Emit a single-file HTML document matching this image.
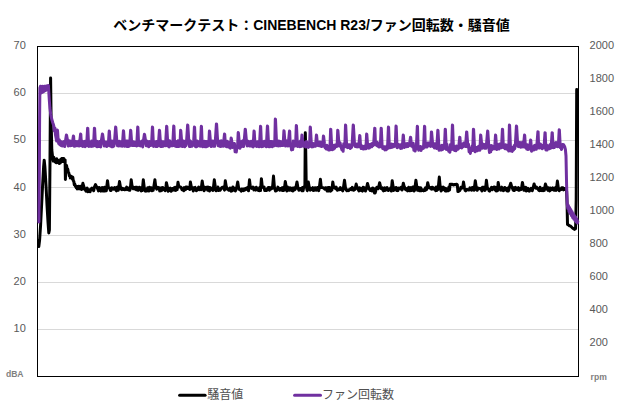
<!DOCTYPE html>
<html><head><meta charset="utf-8"><title>chart</title>
<style>
html,body{margin:0;padding:0;background:#fff;}
svg{display:block;font-family:"Liberation Sans","Noto Sans CJK JP",sans-serif;}
.ax text{font-size:11px;fill:#595959;}
.u text{font-size:8.6px;font-weight:bold;fill:#7f7f7f;}
</style></head><body>
<svg width="620" height="410" viewBox="0 0 620 410">
<rect width="620" height="410" fill="#fff"/>
<g stroke="#d9d9d9" stroke-width="1" shape-rendering="crispEdges"><line x1="38" x2="578" y1="329.36" y2="329.36"/><line x1="38" x2="578" y1="282.21" y2="282.21"/><line x1="38" x2="578" y1="235.07" y2="235.07"/><line x1="38" x2="578" y1="187.93" y2="187.93"/><line x1="38" x2="578" y1="140.79" y2="140.79"/><line x1="38" x2="578" y1="93.64" y2="93.64"/></g>
<rect x="37.5" y="46.5" width="541" height="330" fill="none" stroke="#000" stroke-width="1" shape-rendering="crispEdges"/>
<path d="M38.8,246.5 L39.6,240.0 L40.6,225.0 L41.6,205.0 L42.6,185.0 L43.6,167.0 L44.2,160.2 L44.9,167.0 L46.0,185.0 L47.0,205.0 L48.0,222.0 L48.8,233.0 L49.4,230.0 L50.0,160.0 L50.6,78.0 L51.1,120.0 L51.8,150.0 L52.8,158.9 L53.3,161.1 L53.8,157.3 L54.3,161.3 L54.8,159.1 L55.3,162.0 L55.8,159.6 L56.3,162.7 L56.8,158.8 L57.3,162.0 L57.8,160.7 L58.3,162.6 L58.8,160.6 L59.3,163.6 L59.8,160.4 L60.3,163.0 L60.8,159.3 L61.3,161.9 L61.8,158.5 L62.3,161.1 L62.8,158.5 L63.3,161.6 L63.8,158.4 L64.2,160.5 L65.1,160.0 L65.4,179.5 L65.8,166.0 L66.5,165.4 L67.2,169.0 L67.8,169.1 L68.3,172.4 L68.8,172.8 L69.3,175.8 L69.8,175.4 L70.3,177.9 L70.8,176.3 L71.3,177.8 L71.8,176.7 L72.3,178.9 L72.8,177.3 L73.3,180.8 L73.8,181.3 L74.3,184.8 L74.8,184.0 L75.3,186.3 L75.8,185.9 L76.3,187.9 L76.8,186.4 L77.3,188.9 L77.8,187.4 L78.3,188.4 L78.8,186.2 L79.3,188.8 L79.8,187.5 L80.3,188.9 L80.8,186.3 L81.1,189.0 L81.7,189.4 L82.9,183.3 L83.8,186.5 L84.7,189.5 L85.3,188.8 L85.9,191.1 L86.5,188.9 L87.1,188.0 L87.7,191.8 L88.3,189.8 L88.9,191.4 L89.5,189.7 L90.1,191.7 L90.7,189.9 L91.3,188.7 L91.9,188.1 L92.5,189.3 L93.1,189.7 L93.7,190.8 L94.3,187.4 L95.5,184.6 L96.4,186.4 L97.3,188.2 L97.9,189.2 L98.5,190.9 L99.1,187.5 L99.7,189.1 L100.3,190.4 L100.9,191.1 L101.5,187.8 L102.1,187.5 L102.7,191.0 L103.3,191.1 L103.9,189.0 L104.5,187.2 L105.1,190.9 L105.7,188.6 L106.3,190.8 L107.5,180.8 L108.4,187.7 L109.3,187.9 L109.9,188.7 L110.5,190.6 L111.1,190.5 L111.7,187.8 L112.3,187.9 L112.9,188.7 L113.5,189.2 L114.1,188.6 L114.7,187.5 L115.3,188.0 L115.9,190.0 L116.5,190.8 L117.1,187.2 L117.7,189.4 L118.3,190.2 L119.5,181.6 L120.4,186.8 L121.3,189.3 L121.9,189.6 L122.5,188.3 L123.1,188.8 L123.7,189.4 L124.3,188.8 L124.9,189.8 L125.5,188.9 L126.1,188.8 L126.7,187.1 L127.3,189.6 L127.9,189.1 L128.5,188.0 L129.1,190.2 L129.7,190.3 L130.3,188.9 L131.2,179.8 L132.1,186.4 L133.3,188.8 L133.9,187.4 L134.5,188.9 L135.1,189.1 L135.7,187.2 L136.3,189.7 L136.9,187.3 L137.5,190.1 L138.1,190.3 L138.7,189.1 L139.3,187.2 L139.9,189.1 L140.5,188.6 L141.1,191.0 L141.7,187.6 L142.3,190.6 L143.3,179.8 L144.2,187.2 L145.3,191.1 L145.9,189.1 L146.5,191.0 L147.1,190.8 L147.7,187.7 L148.3,190.3 L148.9,190.9 L149.5,187.3 L150.1,188.5 L150.7,190.2 L151.3,187.7 L151.9,190.8 L152.5,188.2 L153.1,190.4 L153.7,187.6 L154.9,179.8 L155.8,187.4 L156.7,189.1 L157.3,188.3 L157.9,187.2 L158.5,187.8 L159.1,187.7 L159.7,190.9 L160.3,189.9 L160.9,190.8 L161.5,187.7 L162.1,190.3 L162.7,187.5 L163.3,189.2 L163.9,189.7 L164.5,188.5 L165.1,190.7 L165.7,189.3 L166.4,182.7 L167.3,186.5 L168.1,191.2 L168.7,189.6 L169.3,188.7 L169.9,190.4 L170.5,188.1 L171.1,191.2 L171.7,189.4 L172.3,188.5 L172.9,190.2 L173.5,188.9 L174.1,187.7 L174.7,190.1 L175.3,187.2 L175.9,190.4 L176.5,188.1 L177.1,189.7 L178.0,182.3 L178.9,187.1 L180.1,187.0 L180.7,187.1 L181.3,187.6 L181.9,189.6 L182.5,188.8 L183.1,189.2 L183.7,190.8 L184.3,187.6 L184.9,188.0 L185.5,189.7 L186.1,187.1 L186.7,187.0 L187.3,188.5 L187.9,187.4 L188.5,188.5 L189.1,187.9 L189.7,189.5 L190.4,181.9 L191.3,186.8 L192.1,189.0 L192.7,187.6 L193.3,190.9 L193.9,188.0 L194.5,187.6 L195.1,187.4 L195.7,189.7 L196.3,190.7 L196.9,190.3 L197.5,188.7 L198.1,188.1 L198.7,187.0 L199.3,189.7 L199.9,189.4 L200.5,188.5 L201.1,189.7 L202.2,181.1 L203.1,187.0 L204.1,190.8 L204.7,187.2 L205.3,189.2 L205.9,188.7 L206.5,188.0 L207.1,187.2 L207.7,190.3 L208.3,187.1 L208.9,189.3 L209.5,191.0 L210.1,187.6 L210.7,187.8 L211.3,189.6 L211.9,189.1 L212.5,189.7 L213.1,190.4 L214.3,179.8 L215.2,186.3 L216.1,190.7 L216.7,190.3 L217.3,190.0 L217.9,187.0 L218.5,190.5 L219.1,190.1 L219.7,189.0 L220.3,190.1 L220.9,188.9 L221.5,187.9 L222.1,187.4 L222.7,188.0 L223.3,187.2 L223.9,188.4 L224.5,190.1 L225.3,180.8 L226.2,186.3 L226.9,188.1 L227.5,189.3 L228.1,188.8 L228.7,190.3 L229.3,189.2 L229.9,188.1 L230.5,189.7 L231.1,191.1 L231.7,187.9 L232.3,190.7 L232.9,187.1 L233.5,188.1 L234.1,188.0 L234.7,190.1 L235.3,191.0 L235.9,190.1 L236.5,188.4 L237.7,181.9 L238.6,187.7 L239.5,189.6 L240.1,189.9 L240.7,189.8 L241.3,191.1 L241.9,189.0 L242.5,190.5 L243.1,189.9 L243.7,190.6 L244.3,188.8 L244.9,190.0 L245.5,189.4 L246.1,188.3 L246.7,187.9 L247.3,189.6 L247.9,187.3 L248.5,190.8 L249.5,179.8 L250.4,187.5 L251.5,188.4 L252.1,187.6 L252.7,187.1 L253.3,187.2 L253.9,189.9 L254.5,189.7 L255.1,189.9 L255.7,190.1 L256.3,187.3 L256.9,189.5 L257.5,188.5 L258.1,190.4 L258.7,190.4 L259.3,190.7 L259.9,187.3 L260.5,190.6 L261.4,178.7 L262.3,187.0 L263.5,187.5 L264.1,187.1 L264.7,190.6 L265.3,190.4 L265.9,189.7 L266.5,190.5 L267.1,189.7 L267.7,188.2 L268.3,187.4 L268.9,187.4 L269.5,190.2 L270.1,187.9 L270.7,188.3 L271.3,188.8 L271.9,187.1 L272.5,188.1 L273.5,176.0 L274.4,187.1 L275.5,191.0 L276.1,189.1 L276.7,190.6 L277.3,189.6 L277.9,187.1 L278.5,188.7 L279.1,188.8 L279.7,190.2 L280.3,188.5 L280.9,190.0 L281.5,189.3 L282.1,187.9 L282.7,190.6 L283.3,187.4 L283.9,190.4 L284.5,187.7 L285.3,181.4 L286.2,186.7 L286.9,191.1 L287.5,187.0 L288.1,189.1 L288.7,189.1 L289.3,190.3 L289.9,187.8 L290.5,189.1 L291.1,188.5 L291.7,190.5 L292.3,188.1 L292.9,191.0 L293.5,188.2 L294.1,187.9 L294.7,189.9 L295.3,189.1 L295.9,187.5 L297.0,181.9 L297.9,187.4 L298.9,190.3 L299.5,189.6 L300.1,188.5 L300.7,188.7 L301.3,188.7 L301.9,190.7 L302.5,187.4 L303.1,190.7 L303.7,187.1 L304.9,186.0 L305.3,132.8 L305.7,150.0 L306.2,184.0 L306.7,188.6 L307.3,190.7 L308.3,181.9 L309.2,186.9 L310.3,190.2 L310.9,189.7 L311.5,188.5 L312.1,188.4 L312.7,187.7 L313.3,190.5 L313.9,189.8 L314.5,190.1 L315.1,187.7 L315.7,188.8 L316.3,190.2 L316.9,189.4 L317.5,187.5 L318.1,188.9 L318.7,190.7 L319.3,188.0 L320.4,179.2 L321.3,187.6 L322.3,187.6 L322.9,187.7 L323.5,188.0 L324.1,188.4 L324.7,189.2 L325.3,187.7 L325.9,188.4 L326.5,187.8 L327.1,191.1 L327.7,190.1 L328.3,187.4 L328.9,191.0 L329.5,187.4 L330.1,188.6 L330.7,191.1 L331.3,190.3 L331.9,190.1 L332.8,181.9 L333.7,187.4 L334.3,187.4 L334.9,187.9 L335.5,188.6 L336.1,187.1 L336.7,188.7 L337.3,190.3 L337.9,189.9 L338.5,189.1 L339.1,189.7 L339.7,188.9 L340.3,187.6 L340.9,189.5 L341.5,188.7 L342.1,190.1 L342.7,190.8 L343.3,188.8 L344.5,180.3 L345.4,187.4 L346.3,190.0 L346.9,190.7 L347.5,190.3 L348.1,189.9 L348.7,190.6 L349.3,189.9 L349.9,189.7 L350.5,188.9 L351.1,188.3 L351.7,189.6 L352.3,187.4 L352.9,188.8 L353.5,190.3 L354.1,190.0 L354.7,189.6 L355.3,188.1 L356.2,184.0 L357.1,187.6 L357.7,188.7 L358.3,189.8 L358.9,190.9 L359.5,187.8 L360.1,189.7 L360.7,190.3 L361.3,188.6 L361.9,189.1 L362.5,191.1 L363.1,187.2 L363.7,189.3 L364.3,187.7 L364.9,190.3 L365.5,191.0 L366.1,189.2 L366.7,187.4 L367.5,183.5 L368.4,186.7 L369.1,189.2 L369.7,189.7 L370.3,190.5 L370.9,189.2 L371.5,188.7 L372.1,191.0 L372.7,187.9 L373.3,189.9 L373.9,188.6 L374.5,193.0 L375.1,193.0 L375.7,191.1 L376.3,188.5 L376.9,187.2 L377.5,188.2 L378.1,188.7 L378.7,187.1 L379.6,182.7 L380.5,186.4 L381.1,188.5 L381.7,188.1 L382.3,187.9 L382.9,190.1 L383.5,190.9 L384.1,189.2 L384.7,187.9 L385.3,190.4 L385.9,188.6 L386.5,187.9 L387.1,187.5 L387.7,190.3 L388.3,190.4 L388.9,189.7 L389.5,189.0 L390.1,189.4 L390.7,187.9 L391.3,191.0 L392.2,180.8 L393.1,186.6 L393.7,190.4 L394.3,189.0 L394.9,188.2 L395.5,189.3 L396.1,187.5 L396.7,190.5 L397.3,188.5 L397.9,190.6 L398.5,188.1 L399.1,188.6 L399.7,188.1 L400.3,188.8 L400.9,187.8 L401.5,187.0 L402.1,190.0 L403.3,183.2 L404.2,186.6 L405.1,188.8 L405.7,189.7 L406.3,189.8 L406.9,188.5 L407.5,190.9 L408.1,190.6 L408.7,187.2 L409.3,190.5 L409.9,190.8 L410.5,190.3 L411.1,187.6 L411.7,190.5 L412.3,189.7 L412.9,187.1 L413.5,187.0 L414.1,191.0 L414.7,189.8 L415.9,180.3 L416.8,186.4 L417.7,190.3 L418.3,188.5 L418.9,187.6 L419.5,190.8 L420.1,190.3 L420.7,187.7 L421.3,190.7 L421.9,189.6 L422.5,190.3 L423.1,189.8 L423.7,190.8 L424.3,190.3 L424.9,190.5 L425.5,187.8 L426.1,189.9 L426.7,189.2 L427.7,182.7 L428.6,186.4 L429.7,188.1 L430.3,188.0 L430.9,187.6 L431.5,189.1 L432.1,187.2 L432.7,189.0 L433.3,187.6 L433.9,189.1 L434.5,189.1 L435.1,189.3 L435.7,190.6 L436.3,187.0 L436.9,190.5 L437.5,189.0 L438.1,189.4 L439.3,177.1 L440.2,187.1 L441.1,191.0 L441.7,187.3 L442.3,189.7 L442.9,189.7 L443.5,187.1 L444.1,189.6 L444.7,189.9 L445.3,190.9 L445.9,188.4 L446.5,191.1 L447.1,189.1 L447.7,189.0 L448.3,190.8 L448.9,187.1 L449.5,190.0 L450.1,184.3 L450.7,184.3 L451.3,184.5 L451.9,184.2 L452.5,184.4 L453.1,184.9 L453.7,184.9 L454.3,184.5 L454.9,184.5 L455.5,184.7 L456.1,184.3 L456.7,184.3 L457.3,184.7 L457.9,191.5 L458.5,191.5 L459.1,190.0 L459.7,190.7 L460.3,189.3 L460.9,187.2 L461.5,188.3 L462.1,187.0 L462.7,187.8 L463.5,181.9 L464.4,187.5 L465.1,190.3 L465.7,190.8 L466.3,189.6 L466.9,189.6 L467.5,189.6 L468.1,189.9 L468.7,189.5 L469.3,189.9 L469.9,187.9 L470.5,189.8 L471.1,188.9 L471.7,190.2 L472.3,187.4 L472.9,187.8 L473.5,187.2 L474.1,190.3 L475.3,180.8 L476.2,186.9 L477.1,190.3 L477.7,189.4 L478.3,188.1 L478.9,188.3 L479.5,188.8 L480.1,188.3 L480.7,188.8 L481.3,189.7 L481.9,190.9 L482.5,187.2 L483.1,189.4 L483.7,187.2 L484.3,187.5 L484.9,190.4 L485.5,189.4 L486.4,180.3 L487.3,187.6 L487.9,188.6 L488.5,189.5 L489.1,190.9 L489.7,191.1 L490.3,189.0 L490.9,188.7 L491.5,187.4 L492.1,189.7 L492.7,187.9 L493.3,187.6 L493.9,187.1 L494.5,187.0 L495.1,189.9 L495.7,187.5 L496.3,191.1 L496.9,187.4 L497.5,190.7 L498.2,182.4 L499.1,187.6 L499.9,188.0 L500.5,190.1 L501.1,187.8 L501.7,187.2 L502.3,190.3 L502.9,190.0 L503.5,190.6 L504.1,190.1 L504.7,187.4 L505.3,189.6 L505.9,190.0 L506.5,188.9 L507.1,190.9 L507.7,188.1 L508.3,191.1 L508.9,190.0 L509.5,187.0 L510.7,183.2 L511.6,186.4 L512.5,188.3 L513.1,190.1 L513.7,187.7 L514.3,190.6 L514.9,189.0 L515.5,187.3 L516.1,188.5 L516.7,189.4 L517.3,188.8 L517.9,189.8 L518.5,187.6 L519.1,190.3 L519.7,188.5 L520.3,189.7 L520.9,189.6 L521.5,188.8 L522.4,182.4 L523.3,187.1 L523.9,190.3 L524.5,189.4 L525.1,188.2 L525.7,187.3 L526.3,191.1 L526.9,190.0 L527.5,190.5 L528.1,188.4 L528.7,189.5 L529.3,191.1 L529.9,190.5 L530.5,189.5 L531.1,188.3 L531.7,188.8 L532.3,190.7 L532.9,188.6 L534.1,184.0 L535.0,186.9 L535.9,188.2 L536.5,187.0 L537.1,188.1 L537.7,188.8 L538.3,189.5 L538.9,190.4 L539.5,190.7 L540.1,187.2 L540.7,190.5 L541.3,190.4 L541.9,190.6 L542.5,189.4 L543.1,188.2 L543.7,190.6 L544.3,190.4 L545.4,184.0 L546.3,186.5 L547.3,189.3 L547.9,190.3 L548.5,187.8 L549.1,190.2 L549.7,190.9 L550.3,188.0 L550.9,189.5 L551.5,189.8 L552.1,189.0 L552.7,187.9 L553.3,188.1 L553.9,190.2 L554.5,190.3 L555.1,188.9 L555.7,187.4 L556.3,190.4 L557.4,181.1 L558.3,187.6 L559.3,190.7 L559.9,189.2 L560.5,189.0 L561.1,189.5 L561.7,187.8 L562.3,187.8 L562.9,187.8 L563.5,189.9 L564.1,188.5 L564.7,189.4 L565.3,188.7 L565.9,189.2 L566.6,191.0 L567.1,205.0 L567.5,224.5 L568.5,225.0 L569.5,225.8 L570.5,226.0 L571.5,227.0 L572.5,228.0 L573.5,228.6 L574.5,229.4 L575.6,228.5 L576.2,200.0 L576.7,89.6 L577.0,89.6" fill="none" stroke="#000" stroke-width="3" stroke-linejoin="round" stroke-linecap="round"/>
<path d="M38.9,222.0 L39.3,180.0 L39.6,120.0 L39.9,88.0 L40.4,86.3 L40.9,93.2 L41.4,86.4 L41.9,92.6 L42.4,86.3 L42.9,92.0 L43.4,86.4 L43.9,91.4 L44.4,86.3 L44.9,90.8 L45.4,86.2 L45.9,90.2 L46.4,86.0 L46.9,89.6 L47.4,85.7 L47.9,89.0 L48.4,85.4 L48.8,92.0 L49.3,100.0 L49.9,108.0 L50.8,115.0 L51.7,119.0 L52.7,122.5 L53.7,125.5 L54.4,131.0 L54.9,128.0 L55.5,135.0 L56.1,138.0 L56.6,141.0 L57.3,130.0 L57.5,130.2 L58.1,138.9 L58.7,143.5 L59.3,139.8 L59.9,144.7 L60.5,141.2 L61.1,145.6 L61.7,142.0 L62.3,146.1 L62.9,142.1 L63.5,145.5 L64.1,141.6 L64.7,146.6 L65.3,142.0 L66.4,135.1 L66.6,135.3 L67.7,141.3 L68.3,146.0 L68.9,140.7 L69.5,145.5 L70.1,140.9 L70.7,145.8 L71.3,142.0 L71.9,145.6 L72.5,141.7 L73.4,136.0 L73.6,136.2 L74.3,146.3 L74.9,141.2 L75.5,146.0 L76.1,141.4 L76.7,145.5 L77.3,142.1 L77.9,145.7 L78.5,141.2 L79.1,146.0 L79.7,141.7 L80.6,134.0 L80.8,134.2 L81.5,145.8 L82.1,141.0 L82.7,146.4 L83.3,141.8 L83.9,146.3 L84.5,141.4 L85.1,146.7 L85.7,141.1 L86.3,145.8 L86.9,140.7 L87.6,128.2 L87.8,128.4 L88.7,146.5 L89.3,142.0 L89.9,146.1 L90.5,142.1 L91.1,146.4 L91.7,141.1 L92.3,146.3 L92.9,140.9 L93.5,145.9 L94.4,128.2 L94.6,128.4 L95.3,141.3 L95.9,146.1 L96.5,140.9 L97.1,146.8 L97.7,141.5 L98.3,146.4 L98.9,142.1 L99.5,146.5 L100.1,141.2 L100.7,146.9 L101.3,141.0 L102.4,134.0 L102.6,134.2 L103.7,142.2 L104.3,146.1 L104.9,141.9 L105.5,145.6 L106.1,142.1 L106.7,146.6 L107.3,142.0 L107.9,145.8 L108.5,141.6 L109.2,131.1 L109.4,131.3 L110.3,146.1 L110.9,141.4 L111.5,146.7 L112.1,141.0 L112.7,146.7 L113.3,141.8 L113.9,146.0 L114.5,141.7 L115.6,127.1 L115.8,127.3 L116.9,141.9 L117.5,145.7 L118.1,141.8 L118.7,146.1 L119.3,141.3 L119.9,145.8 L120.5,142.2 L121.1,146.0 L121.7,141.6 L122.3,146.2 L123.4,130.8 L123.6,131.0 L124.7,146.3 L125.3,141.2 L125.9,145.5 L126.5,140.9 L127.1,146.6 L127.7,140.9 L128.3,146.6 L128.9,141.6 L129.5,146.0 L130.6,130.3 L130.8,130.5 L131.9,145.5 L132.5,141.9 L133.1,145.6 L133.7,141.7 L134.3,145.5 L134.9,142.2 L135.5,145.6 L136.1,142.0 L136.7,145.9 L137.7,127.1 L137.9,127.3 L138.5,141.3 L139.1,145.6 L139.7,141.8 L140.3,145.9 L140.9,141.7 L141.5,145.6 L142.1,140.9 L142.7,146.9 L143.3,141.5 L144.4,134.3 L144.6,134.5 L145.7,141.7 L146.3,145.8 L146.9,141.0 L147.5,145.6 L148.1,142.2 L148.7,146.8 L149.3,141.4 L149.9,145.6 L150.5,141.4 L151.1,145.4 L151.7,141.4 L152.4,127.1 L152.6,127.3 L153.5,146.4 L154.1,141.8 L154.7,146.0 L155.3,141.9 L155.9,146.6 L156.5,141.4 L157.1,146.6 L157.7,141.7 L158.3,145.7 L159.4,130.3 L159.6,130.5 L160.7,146.6 L161.3,141.0 L161.9,146.5 L162.5,141.9 L163.1,146.2 L163.7,141.7 L164.3,145.4 L164.9,142.2 L165.5,145.8 L166.6,126.3 L166.8,126.5 L167.9,146.1 L168.5,140.8 L169.1,146.9 L169.7,140.8 L170.3,145.9 L170.9,141.9 L171.5,145.7 L172.1,141.9 L172.7,145.7 L173.7,126.0 L173.9,126.2 L174.5,140.9 L175.1,146.1 L175.7,141.2 L176.3,146.6 L176.9,142.1 L177.5,146.4 L178.1,140.8 L178.7,146.6 L179.3,141.1 L179.9,146.1 L180.6,130.3 L180.8,130.5 L181.7,141.7 L182.3,146.6 L182.9,140.7 L183.5,146.0 L184.1,141.6 L184.7,146.8 L185.3,141.1 L185.9,145.7 L186.5,142.0 L187.6,125.0 L187.8,125.2 L188.9,142.0 L189.5,146.6 L190.1,140.7 L190.7,146.4 L191.3,141.7 L191.9,146.2 L192.5,142.0 L193.1,145.4 L193.7,140.7 L194.4,127.1 L194.6,127.3 L195.5,146.8 L196.1,141.5 L196.7,146.7 L197.3,141.0 L197.9,145.7 L198.5,141.8 L199.1,145.8 L199.7,141.8 L200.3,146.3 L201.3,126.3 L201.5,126.5 L202.1,142.0 L202.7,146.8 L203.3,141.7 L203.9,146.1 L204.5,141.3 L205.1,146.8 L205.7,141.6 L206.3,146.8 L206.9,141.4 L207.5,146.2 L208.1,141.4 L208.7,145.4 L209.4,131.1 L209.6,131.3 L210.5,142.2 L211.1,146.6 L211.7,141.9 L212.3,146.1 L212.9,141.1 L213.5,146.2 L214.1,141.7 L214.7,146.2 L215.3,141.4 L216.4,123.9 L216.6,124.1 L217.7,141.8 L218.3,145.8 L218.9,141.0 L219.5,146.2 L220.1,141.4 L220.7,146.5 L221.3,140.8 L221.9,146.1 L222.5,141.3 L223.1,146.2 L223.7,141.4 L224.5,134.0 L224.7,134.2 L225.5,146.2 L226.1,141.5 L226.7,146.8 L227.3,141.2 L227.9,146.7 L228.5,142.2 L229.1,147.2 L229.7,142.8 L230.3,148.2 L231.1,138.1 L231.3,138.3 L232.1,143.4 L232.7,147.5 L233.3,143.5 L233.9,147.2 L234.5,143.5 L235.1,151.8 L235.7,146.4 L236.3,152.1 L236.9,147.4 L237.5,147.9 L238.2,132.6 L238.4,132.8 L239.3,142.3 L239.9,148.3 L240.5,141.9 L241.1,146.8 L241.7,141.6 L242.3,146.1 L242.9,140.7 L243.5,146.6 L244.1,142.0 L245.2,129.2 L245.4,129.4 L246.5,141.9 L247.1,145.9 L247.7,141.1 L248.3,145.4 L248.9,141.4 L249.5,146.1 L250.1,142.2 L250.7,145.9 L251.3,141.3 L251.9,146.2 L252.5,142.1 L253.1,146.9 L254.0,131.1 L254.2,131.3 L254.9,142.0 L255.5,145.8 L256.1,142.1 L256.7,146.6 L257.3,141.8 L257.9,145.6 L258.5,141.6 L259.1,146.8 L259.7,141.0 L260.5,126.3 L260.7,126.5 L261.5,146.8 L262.1,141.3 L262.7,146.5 L263.3,142.1 L263.9,145.5 L264.5,141.2 L265.1,146.0 L265.7,142.1 L266.3,146.8 L267.4,126.0 L267.6,126.2 L268.7,146.7 L269.3,142.1 L269.9,146.7 L270.5,141.5 L271.1,145.9 L271.7,141.4 L272.3,146.8 L272.9,141.8 L273.5,145.6 L274.1,141.4 L274.7,145.8 L275.3,119.0 L275.5,119.2 L276.5,142.1 L277.1,145.7 L277.7,141.7 L278.3,145.9 L278.9,141.1 L279.5,145.8 L280.1,141.4 L280.7,145.7 L281.3,141.7 L281.9,145.4 L282.5,141.8 L283.1,145.4 L283.9,130.8 L284.1,131.0 L284.9,141.9 L285.5,146.1 L286.1,140.8 L286.7,145.6 L287.3,141.0 L287.9,146.0 L288.5,141.5 L289.5,131.1 L289.7,131.3 L290.3,146.2 L290.9,144.2 L291.5,149.9 L292.1,144.7 L292.7,149.6 L293.3,141.1 L293.9,146.4 L294.5,141.6 L295.1,145.9 L295.7,142.1 L296.3,125.5 L296.5,125.7 L297.5,146.5 L298.1,141.8 L298.7,145.6 L299.3,142.1 L299.9,146.7 L300.5,140.9 L301.1,146.5 L301.9,135.1 L302.1,135.3 L302.9,142.0 L303.5,146.2 L304.1,142.4 L304.7,146.3 L305.3,142.4 L305.9,147.1 L306.5,141.5 L307.1,146.6 L307.7,142.8 L308.3,147.4 L308.9,142.9 L309.5,146.6 L310.2,127.1 L310.4,127.3 L311.3,142.9 L311.9,146.9 L312.5,143.4 L313.1,146.8 L313.7,143.6 L314.3,146.3 L314.9,143.4 L315.5,146.2 L316.4,135.1 L316.6,135.3 L317.3,142.7 L317.9,145.5 L318.5,142.2 L319.1,145.8 L319.7,141.9 L320.3,146.0 L320.9,142.2 L321.5,146.5 L322.1,143.0 L322.7,146.2 L323.4,136.0 L323.6,136.2 L324.5,143.9 L325.1,147.9 L325.7,145.6 L326.3,148.9 L326.9,145.2 L327.5,149.3 L328.1,146.1 L328.7,150.0 L329.3,147.4 L329.9,149.9 L330.6,129.2 L330.8,129.4 L331.7,146.3 L332.3,149.8 L332.9,146.1 L333.5,149.2 L334.1,145.3 L334.7,148.2 L335.3,145.1 L335.9,146.5 L336.5,144.6 L337.1,146.4 L337.7,130.3 L337.9,130.5 L338.9,143.0 L339.5,146.0 L340.1,142.8 L340.7,146.1 L341.3,147.6 L341.9,149.8 L342.5,147.5 L343.1,151.3 L343.7,143.8 L344.3,146.9 L344.9,144.1 L345.5,125.0 L345.7,125.2 L346.7,147.3 L347.3,145.6 L347.9,147.6 L348.5,144.8 L349.1,147.5 L349.7,144.8 L350.3,148.5 L350.9,145.0 L351.5,147.5 L352.1,144.8 L353.2,125.0 L353.4,125.2 L354.5,144.1 L355.1,146.4 L355.7,144.7 L356.3,146.7 L356.9,143.9 L357.5,146.9 L358.1,144.4 L358.7,146.8 L359.7,135.6 L359.9,135.8 L360.5,145.1 L361.1,148.6 L361.7,145.6 L362.3,148.5 L362.9,146.2 L363.5,149.1 L364.1,146.4 L364.7,148.7 L365.3,145.8 L365.9,148.7 L366.6,134.0 L366.8,134.2 L367.7,146.4 L368.3,148.1 L368.9,144.6 L369.5,148.1 L370.1,144.4 L370.7,146.4 L371.3,144.0 L371.9,146.7 L372.5,143.3 L373.1,145.6 L373.7,143.0 L374.7,128.2 L374.9,128.4 L375.5,144.6 L376.1,142.0 L376.7,145.4 L377.3,142.3 L377.9,146.2 L378.5,143.8 L379.1,147.1 L379.7,144.2 L380.3,146.7 L381.1,128.2 L381.3,128.4 L382.1,145.7 L382.7,148.5 L383.3,146.7 L383.9,149.0 L384.5,146.8 L385.1,149.9 L385.7,147.3 L386.3,149.7 L386.9,146.0 L387.5,148.6 L388.4,127.1 L388.6,127.3 L389.3,145.0 L389.9,147.8 L390.5,145.3 L391.1,147.5 L391.7,143.9 L392.3,147.3 L392.9,144.4 L393.5,146.8 L394.1,144.3 L394.7,146.2 L395.3,144.6 L396.0,126.0 L396.2,126.2 L397.1,147.7 L397.7,144.7 L398.3,147.0 L398.9,144.6 L399.5,147.1 L400.1,145.0 L400.7,148.4 L401.3,144.4 L401.9,148.2 L402.5,144.8 L403.2,135.1 L403.4,135.3 L404.3,147.5 L404.9,144.2 L405.5,146.5 L406.1,143.8 L406.7,146.7 L407.3,143.4 L407.9,146.6 L408.5,143.7 L409.1,145.5 L409.7,142.7 L410.5,137.2 L410.7,137.4 L411.5,146.0 L412.1,143.8 L412.7,146.9 L413.3,143.3 L413.9,150.3 L414.5,147.9 L415.1,151.0 L415.7,148.8 L416.3,148.3 L417.3,126.3 L417.5,126.5 L418.1,147.0 L418.7,150.2 L419.3,146.9 L419.9,149.4 L420.5,146.5 L421.1,150.5 L421.7,146.9 L422.3,148.9 L422.9,146.8 L423.5,148.3 L424.5,126.3 L424.7,126.5 L425.3,145.3 L425.9,147.0 L426.5,144.0 L427.1,147.1 L427.7,143.1 L428.3,145.8 L428.9,143.0 L429.5,145.6 L430.1,143.3 L430.7,146.4 L431.4,131.9 L431.6,132.1 L432.5,142.5 L433.1,146.6 L433.7,143.7 L434.3,147.9 L434.9,143.7 L435.5,147.8 L436.1,145.3 L436.7,148.5 L437.8,130.3 L438.0,130.5 L439.1,150.3 L439.7,145.5 L440.3,149.0 L440.9,146.9 L441.5,150.1 L442.1,145.3 L442.7,149.5 L443.3,145.6 L443.9,148.5 L444.5,145.6 L445.2,129.2 L445.4,129.4 L446.3,149.4 L446.9,144.2 L447.5,148.2 L448.1,148.6 L448.7,151.1 L449.3,148.0 L449.9,152.2 L450.5,144.5 L451.1,149.5 L451.7,145.3 L452.4,125.0 L452.6,125.2 L453.5,149.8 L454.1,147.0 L454.7,150.4 L455.3,146.8 L455.9,150.7 L456.5,146.0 L457.1,149.5 L457.7,146.6 L458.3,149.1 L458.9,145.3 L459.7,137.2 L459.9,137.4 L460.7,147.6 L461.3,144.3 L461.9,147.9 L462.5,143.9 L463.1,146.7 L463.7,143.1 L464.3,145.9 L464.9,143.3 L465.5,146.6 L466.6,131.9 L466.8,132.1 L467.9,147.1 L468.5,144.2 L469.1,151.8 L469.7,148.2 L470.3,153.4 L470.9,150.1 L471.5,148.5 L472.1,146.0 L472.7,150.4 L473.4,129.2 L473.6,129.4 L474.5,146.9 L475.1,151.8 L475.7,147.9 L476.3,150.3 L476.9,147.6 L477.5,150.8 L478.1,146.7 L478.7,150.0 L479.3,146.0 L479.9,150.3 L480.6,135.1 L480.8,135.3 L481.7,144.4 L482.3,148.3 L482.9,144.1 L483.5,147.6 L484.1,144.6 L484.7,148.2 L485.3,144.3 L485.9,148.3 L486.5,143.9 L487.6,131.1 L487.8,131.3 L488.9,147.5 L489.5,152.5 L490.1,148.8 L490.7,151.9 L491.3,145.5 L491.9,149.7 L492.5,145.9 L493.1,148.3 L493.7,146.1 L494.3,148.9 L494.9,144.7 L495.5,135.1 L495.7,135.3 L496.7,149.6 L497.3,144.2 L497.9,148.2 L498.5,145.2 L499.1,148.9 L499.7,144.0 L500.3,147.2 L500.9,144.0 L501.5,147.8 L502.4,129.2 L502.6,129.4 L503.3,145.1 L503.9,147.6 L504.5,145.3 L505.1,148.7 L505.7,144.7 L506.3,148.8 L506.9,145.3 L507.5,149.5 L508.1,146.8 L508.7,151.1 L509.4,125.0 L509.6,125.2 L510.5,148.0 L511.1,150.9 L511.7,147.4 L512.3,151.4 L512.9,147.3 L513.5,150.0 L514.1,145.6 L514.7,148.8 L515.3,145.7 L516.4,126.0 L516.6,126.2 L517.7,144.8 L518.3,146.6 L518.9,142.6 L519.5,146.4 L520.1,142.5 L520.7,147.2 L521.3,143.1 L521.9,146.1 L522.5,142.2 L523.1,147.0 L523.7,143.7 L524.5,135.1 L524.7,135.3 L525.5,147.6 L526.1,145.5 L526.7,149.1 L527.3,144.7 L527.9,149.6 L528.5,145.2 L529.1,149.1 L529.7,146.9 L530.6,140.0 L530.8,140.2 L531.5,151.2 L532.1,146.9 L532.7,149.9 L533.3,146.6 L533.9,150.0 L534.5,145.4 L535.1,148.8 L535.7,144.9 L536.3,149.3 L536.9,144.5 L537.9,131.7 L538.1,131.9 L538.7,148.0 L539.3,144.8 L539.9,148.0 L540.5,144.0 L541.1,147.5 L541.7,145.1 L542.3,148.8 L542.9,145.3 L543.5,147.9 L544.1,145.9 L545.0,132.7 L545.2,132.9 L545.9,149.9 L546.5,144.8 L547.1,150.0 L547.7,145.8 L548.3,148.3 L548.9,145.9 L549.5,148.8 L550.1,144.5 L550.7,148.3 L551.3,144.9 L552.1,132.7 L552.3,132.9 L553.1,147.7 L553.7,143.0 L554.3,147.6 L554.9,142.9 L555.5,146.1 L556.1,142.4 L556.7,146.4 L557.3,143.0 L557.9,146.8 L558.5,143.1 L559.2,129.8 L559.4,130.0 L560.3,147.7 L560.9,145.4 L561.5,149.5 L562.6,144.5 L563.6,144.8 L564.6,146.5 L565.4,149.5 L566.0,156.0 L566.6,185.0 L567.2,204.0 L567.8,208.5 L568.4,205.5 L569.0,211.5 L569.6,207.5 L570.2,213.5 L570.8,209.5 L571.4,215.5 L572.0,211.5 L572.6,217.5 L573.2,213.5 L573.8,219.0 L574.4,215.5 L575.0,220.5 L575.6,217.0 L576.2,222.0 L576.8,219.0 L577.4,223.0 L577.8,221.5" fill="none" stroke="#7030a0" stroke-width="3" stroke-linejoin="round" stroke-linecap="round"/>
<text x="311.5" y="30.4" text-anchor="middle" font-size="14" font-weight="bold" fill="#000" font-family="&quot;Liberation Sans&quot;,&quot;Noto Sans CJK JP&quot;,sans-serif">ベンチマークテスト：CINEBENCH R23/ファン回転数・騒音値</text>
<g class="ax" text-anchor="end">
<text x="25.8" y="331.96">10</text>
<text x="25.8" y="284.81">20</text>
<text x="25.8" y="237.67">30</text>
<text x="25.8" y="190.53">40</text>
<text x="25.8" y="143.39">50</text>
<text x="25.8" y="96.25">60</text>
<text x="25.8" y="49.1">70</text>
</g>
<g class="ax" text-anchor="start">
<text x="589.6" y="346.1">200</text>
<text x="589.6" y="313.1">400</text>
<text x="589.6" y="280.1">600</text>
<text x="589.6" y="247.1">800</text>
<text x="589.6" y="214.1">1000</text>
<text x="589.6" y="181.1">1200</text>
<text x="589.6" y="148.1">1400</text>
<text x="589.6" y="115.1">1600</text>
<text x="589.6" y="82.1">1800</text>
<text x="589.6" y="49.1">2000</text>
</g>
<g class="u">
<text x="5.9" y="376.7">dBA</text>
<text x="590.6" y="379.8">rpm</text>
</g>
<line x1="179.6" x2="205.1" y1="395.2" y2="395.2" stroke="#000" stroke-width="3" stroke-linecap="round"/>
<line x1="294.6" x2="320.5" y1="395.2" y2="395.2" stroke="#7030a0" stroke-width="3" stroke-linecap="round"/>
<text x="207.3" y="398.8" font-size="12" fill="#505050" font-family="&quot;Liberation Sans&quot;,&quot;Noto Sans CJK JP&quot;,sans-serif">騒音値</text>
<text x="322" y="398.8" font-size="12" fill="#505050" font-family="&quot;Liberation Sans&quot;,&quot;Noto Sans CJK JP&quot;,sans-serif">ファン回転数</text>
</svg>
</body></html>
